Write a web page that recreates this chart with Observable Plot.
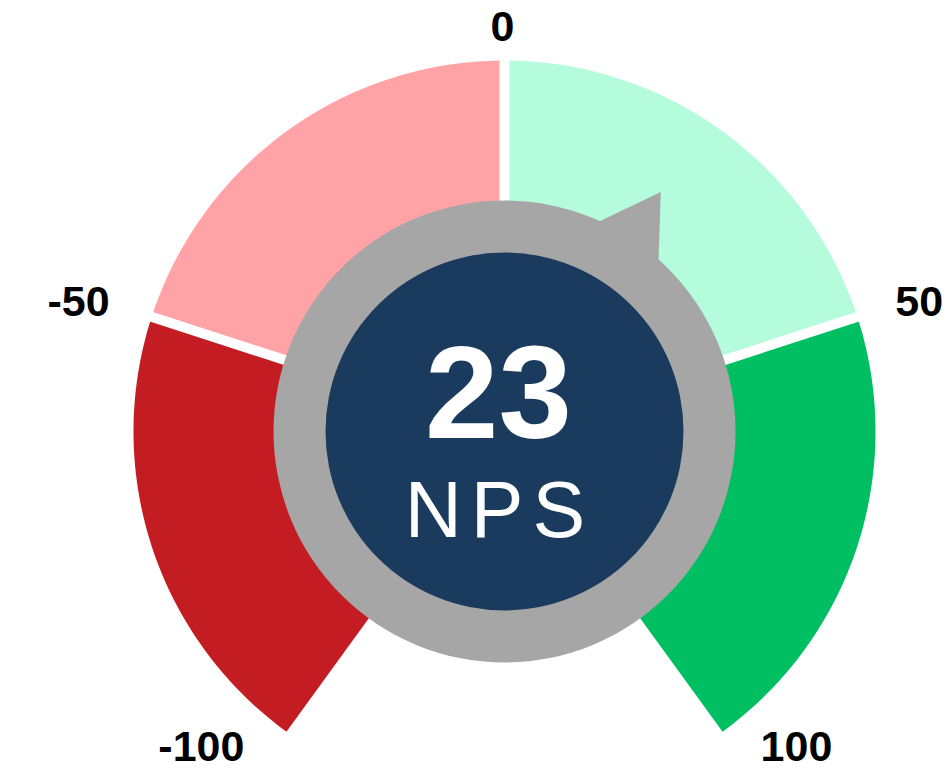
<!DOCTYPE html>
<html>
<head>
<meta charset="utf-8">
<script src="https://cdn.jsdelivr.net/npm/d3@7"></script>
<script src="https://cdn.jsdelivr.net/npm/@observablehq/plot@0.6"></script>
<style>
  html, body { margin: 0; padding: 0; background: #ffffff; }
  #chart svg { display: block; }
</style>
</head>
<body>
<div id="chart"></div>
<script>
// ---- data ----
const bandEdges = [-100, -50, 0, 50, 100];
const bandColors = ["#C31C22", "#FFA3A6", "#B4FCDC", "#00BF63"];
const tickValues = [-100, -50, 0, 50, 100];
const tickLabels = ["-100", "-50", "0", "50", "100"];
const npsValue = 23;
const npsLabel = "NPS";

// ---- geometry ----
const W = 950, H = 772;
const cx = 504, cy = 431;
const rOuter = 371, rRing = 231, rInner = 179;
const angle = d3.scaleLinear().domain([-100, 100]).range([-0.8 * Math.PI, 0.8 * Math.PI]);
const polar = (a, r) => ({x: cx + r * Math.sin(a), y: cy - r * Math.cos(a)});

// sector polygons
const sectorMarks = bandColors.map((color, i) => {
  const a0 = angle(bandEdges[i]), a1 = angle(bandEdges[i + 1]);
  const pts = [{x: cx, y: cy}];
  const N = 80;
  for (let k = 0; k <= N; k++) pts.push(polar(a0 + (a1 - a0) * k / N, rOuter));
  return Plot.line(pts, {x: "x", y: "y", fill: color, stroke: "none", curve: "linear-closed"});
});

// white separators at inner band edges
const separators = bandEdges.slice(1, -1).map(v => {
  const p = polar(angle(v), rOuter + 6);
  return {x1: cx, y1: cy, x2: p.x, y2: p.y};
});

// pointer
const aV = angle(npsValue);
const halfW = 11.4 * Math.PI / 180;
const pointer = [polar(aV, 286), polar(aV - halfW, 219), polar(aV + halfW, 219)];

// tick labels
const labels = tickValues.map((v, i) => {
  const a = angle(v);
  const c = polar(a, rOuter);
  const s = Math.sin(a);
  const side = Math.abs(s) < 0.1 ? 0 : Math.sign(s);
  return {
    label: tickLabels[i],
    x: c.x + 40 * side - 2,
    y: c.y - 27 * Math.cos(a) - 6,
    anchor: side === 0 ? "middle" : side < 0 ? "end" : "start"
  };
});

const font = "'Liberation Sans', Arial, Helvetica, sans-serif";

const plot = Plot.plot({
  width: W,
  height: H,
  margin: 0,
  style: {background: "#ffffff", fontFamily: font},
  x: {domain: [0, W], range: [0, W], axis: null},
  y: {domain: [0, H], range: [0, H], axis: null},
  marks: [
    ...sectorMarks,
    Plot.link(separators, {x1: "x1", y1: "y1", x2: "x2", y2: "y2", stroke: "#ffffff", strokeWidth: 10}),
    Plot.dot([{x: cx, y: cy}], {x: "x", y: "y", r: rRing, fill: "#A6A6A6", stroke: "none"}),
    Plot.line(pointer, {x: "x", y: "y", fill: "#A6A6A6", stroke: "none", curve: "linear-closed"}),
    Plot.dot([{x: cx, y: cy}], {x: "x", y: "y", r: rInner, fill: "#1A3B5E", stroke: "none"}),
    ...["start", "middle", "end"].map(anchor =>
      Plot.text(labels.filter(d => d.anchor === anchor), {
        x: "x", y: "y", text: "label", textAnchor: anchor, lineAnchor: "middle",
        fontSize: 43, fontWeight: "bold", fill: "#000000", fontFamily: font
      })
    ),
    Plot.text([String(npsValue)], {
      x: () => cx - 6, y: () => cy + 6, text: d => d, textAnchor: "middle", lineAnchor: "bottom",
      fontSize: 132, fontWeight: "bold", fill: "#ffffff", fontFamily: font
    }),
    Plot.text([npsLabel], {
      x: () => cx - 5, y: () => cy + 105, text: d => d, textAnchor: "middle", lineAnchor: "bottom",
      fontSize: 79, fontWeight: "normal", fill: "#ffffff", fontFamily: font
    })
  ]
});

// letter spacing for NPS
d3.select(plot).selectAll("text").filter(function() { return this.textContent === npsLabel; })
  .attr("letter-spacing", "9px");

document.getElementById("chart").appendChild(plot);
</script>
</body>
</html>
